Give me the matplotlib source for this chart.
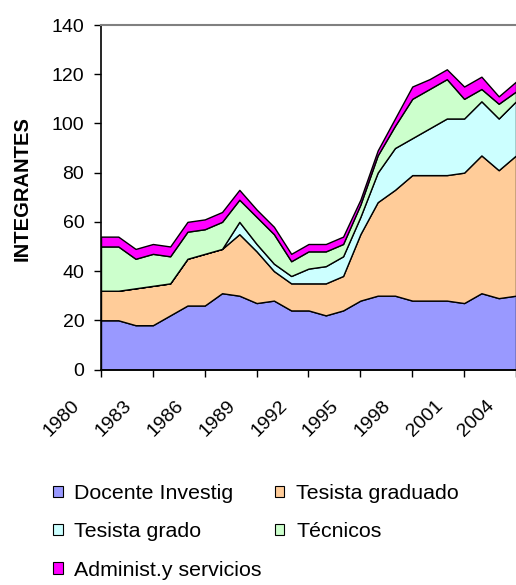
import matplotlib
matplotlib.use("Agg")
import matplotlib.pyplot as plt
from matplotlib.transforms import ScaledTranslation

years = list(range(1980, 2005))
docente = [20, 20, 18, 18, 22, 26, 26, 31, 30, 27, 28, 24, 24, 22, 24, 28, 30, 30, 28, 28, 28, 27, 31, 29, 30]
tesista_graduado = [12, 12, 15, 16, 13, 19, 21, 18, 25, 21, 12, 11, 11, 13, 14, 27, 38, 43, 51, 51, 51, 53, 56, 52, 57]
tesista_grado = [0, 0, 0, 0, 0, 0, 0, 0, 5, 3, 3, 3, 6, 7, 8, 7, 12, 17, 15, 19, 23, 22, 22, 21, 22]
tecnicos = [18, 18, 12, 13, 11, 11, 10, 11, 9, 11, 12, 6, 7, 6, 5, 5, 7, 9, 16, 16, 16, 8, 5, 6, 4]
administ = [4, 4, 4, 4, 4, 4, 4, 4, 4, 3, 3, 3, 3, 3, 3, 2, 2, 3, 5, 4, 4, 5, 5, 3, 4]

labels = ["Docente Investig", "Tesista graduado", "Tesista grado", "Técnicos", "Administ.y servicios"]
colors = ["#9999FF", "#FFCC99", "#CCFFFF", "#CCFFCC", "#FF00FF"]
x_ticks = list(range(1980, 2005, 3))
y_ticks = list(range(0, 141, 20))

plt.rcParams['font.family'] = ['Liberation Sans', 'DejaVu Sans']

fig = plt.figure(figsize=(5.16, 5.85), dpi=100)
ax = fig.add_axes([101 / 516, 215.5 / 585, 1 - 101 / 516, 344.5 / 585])

polys = ax.stackplot(years, docente, tesista_graduado, tesista_grado, tecnicos, administ,
                     colors=colors, labels=labels, edgecolor="black", linewidth=1.0)

ax.set_xlim(1980, 2004)
ax.set_ylim(0, 140)
ax.set_xticks(x_ticks)
ax.set_xticklabels([str(y) for y in x_ticks], rotation=45, ha="right", va="top",
                   rotation_mode="anchor")
ax.set_yticks(y_ticks)
ax.tick_params(axis="both", direction="out", length=5, width=1, labelsize=14, colors="black")
ax.tick_params(axis="x", pad=4)
ax.tick_params(axis="y", pad=7)

# push the slanted year labels down-left, like the original
shift = ScaledTranslation(-30 / 100, -15 / 100, fig.dpi_scale_trans)
for lbl in ax.get_xticklabels():
    lbl.set_transform(lbl.get_transform() + shift)

ax.spines["right"].set_visible(False)
ax.spines["top"].set_color("#808080")
ax.spines["top"].set_linewidth(1.5)
ax.spines["left"].set_linewidth(1.2)
ax.spines["bottom"].set_linewidth(1.2)

fig.text(22 / 516, 1 - 189 / 585, "INTEGRANTES", rotation=90, fontsize=14.5,
         fontweight="bold", ha="center", va="center")

# row-wise legend order: matplotlib fills columns first
order = [0, 2, 4, 1, 3]
leg = fig.legend(handles=[polys[i] for i in order], labels=[labels[i] for i in order],
                 ncol=2, loc="upper left", bbox_to_anchor=(53 / 516, 1 - 484 / 585),
                 frameon=False, fontsize=15.4, handlelength=0.45, handleheight=0.45,
                 handletextpad=0.55, labelspacing=0.9, columnspacing=0.6,
                 borderpad=0, borderaxespad=0)
for h in leg.legend_handles:
    h.set_linewidth(0.8)

fig.savefig("out.png", dpi=100)
